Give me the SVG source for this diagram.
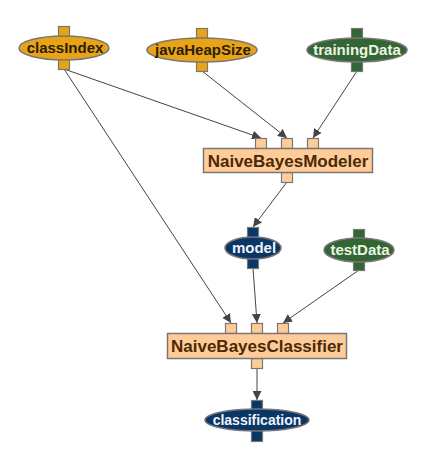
<svg xmlns="http://www.w3.org/2000/svg" width="428" height="468" viewBox="0 0 428 468">
<defs>
<marker id="arr" viewBox="0 0 10 10" refX="10" refY="5" markerWidth="9" markerHeight="9" markerUnits="userSpaceOnUse" orient="auto">
<path d="M0,0 L10,5 L0,10 z" fill="#444"/>
</marker>
<style>
.e{stroke:#777;stroke-width:1.5}
.p{stroke:#777;stroke-width:1.2}
.o{fill:#E8A317}
.g{fill:#346534}
.b{fill:#0A3666}
.bx{fill:#FFCC99;stroke:#777;stroke-width:1.5}
.bp{fill:#FFCC99;stroke:#777;stroke-width:1.2}
text{font-family:"Liberation Sans",Arial,sans-serif;font-weight:bold;text-anchor:middle}
.to{fill:#2a1e05;font-size:15px}
.tl{fill:#eaf5e4;font-size:15px}
.tb{fill:#eef3fa;font-size:15px}
.tx{fill:#4a2a06;font-size:17px}
.c line{stroke:#444;stroke-width:1;marker-end:url(#arr)}
</style>
</defs>
<rect width="428" height="468" fill="#fff"/>
<g class="c" id="connectors">
<line x1="64" y1="69" x2="261" y2="138"/>
<line x1="202" y1="71" x2="287" y2="138"/>
<line x1="357" y1="71" x2="313" y2="138"/>
<line x1="287" y1="182" x2="253" y2="227"/>
<line x1="64" y1="69" x2="231" y2="323"/>
<line x1="253" y1="268" x2="257" y2="323"/>
<line x1="359" y1="270" x2="283" y2="323"/>
<line x1="257" y1="368" x2="257" y2="400"/>
</g>
<g id="classIndex">
<rect class="p o" x="58.5" y="26.5" width="11" height="12"/>
<rect class="p o" x="58.5" y="58.5" width="11" height="11"/>
<ellipse class="e o" cx="64" cy="48" rx="45" ry="12"/>
<text class="to" x="65" y="53">classIndex</text>
</g>
<g id="javaHeapSize">
<rect class="p o" x="196.5" y="28.5" width="11" height="12"/>
<rect class="p o" x="196.5" y="60.5" width="11" height="11"/>
<ellipse class="e o" cx="202" cy="50" rx="55" ry="12"/>
<text class="to" x="203" y="55">javaHeapSize</text>
</g>
<g id="trainingData">
<rect class="p g" x="351.5" y="28.5" width="11" height="12"/>
<rect class="p g" x="351.5" y="60.5" width="11" height="11"/>
<ellipse class="e g" cx="357" cy="50" rx="50" ry="12"/>
<text class="tl" x="357" y="55">trainingData</text>
</g>
<g id="NaiveBayesModeler">
<rect class="bp" x="255.5" y="138.5" width="11" height="10"/>
<rect class="bp" x="281.5" y="138.5" width="11" height="10"/>
<rect class="bp" x="307.5" y="138.5" width="11" height="10"/>
<rect class="bp" x="281.5" y="172.5" width="11" height="10"/>
<rect class="bx" x="203.5" y="148.5" width="169" height="24"/>
<text class="tx" x="288" y="166.5">NaiveBayesModeler</text>
</g>
<g id="model">
<rect class="p b" x="247.5" y="227.5" width="11" height="12"/>
<rect class="p b" x="247.5" y="257.5" width="11" height="11"/>
<ellipse class="e b" cx="253" cy="248" rx="28" ry="11"/>
<text class="tb" x="254" y="253">model</text>
</g>
<g id="testData">
<rect class="p g" x="353.5" y="229.5" width="11" height="12"/>
<rect class="p g" x="353.5" y="259.5" width="11" height="11"/>
<ellipse class="e g" cx="359" cy="250" rx="35" ry="12"/>
<text class="tl" x="360" y="255">testData</text>
</g>
<g id="NaiveBayesClassifier">
<rect class="bp" x="225.5" y="323.5" width="11" height="10"/>
<rect class="bp" x="251.5" y="323.5" width="11" height="10"/>
<rect class="bp" x="277.5" y="323.5" width="11" height="10"/>
<rect class="bp" x="251.5" y="358.5" width="11" height="10"/>
<rect class="bx" x="167.5" y="333.5" width="179" height="25"/>
<text class="tx" x="257" y="352">NaiveBayesClassifier</text>
</g>
<g id="classification">
<rect class="p b" x="251.5" y="400.5" width="11" height="12"/>
<rect class="p b" x="251.5" y="429.5" width="11" height="12"/>
<ellipse class="e b" cx="257" cy="420" rx="52" ry="11"/>
<text class="tb" x="257" y="425" style="font-size:14px">classification</text>
</g>
</svg>
